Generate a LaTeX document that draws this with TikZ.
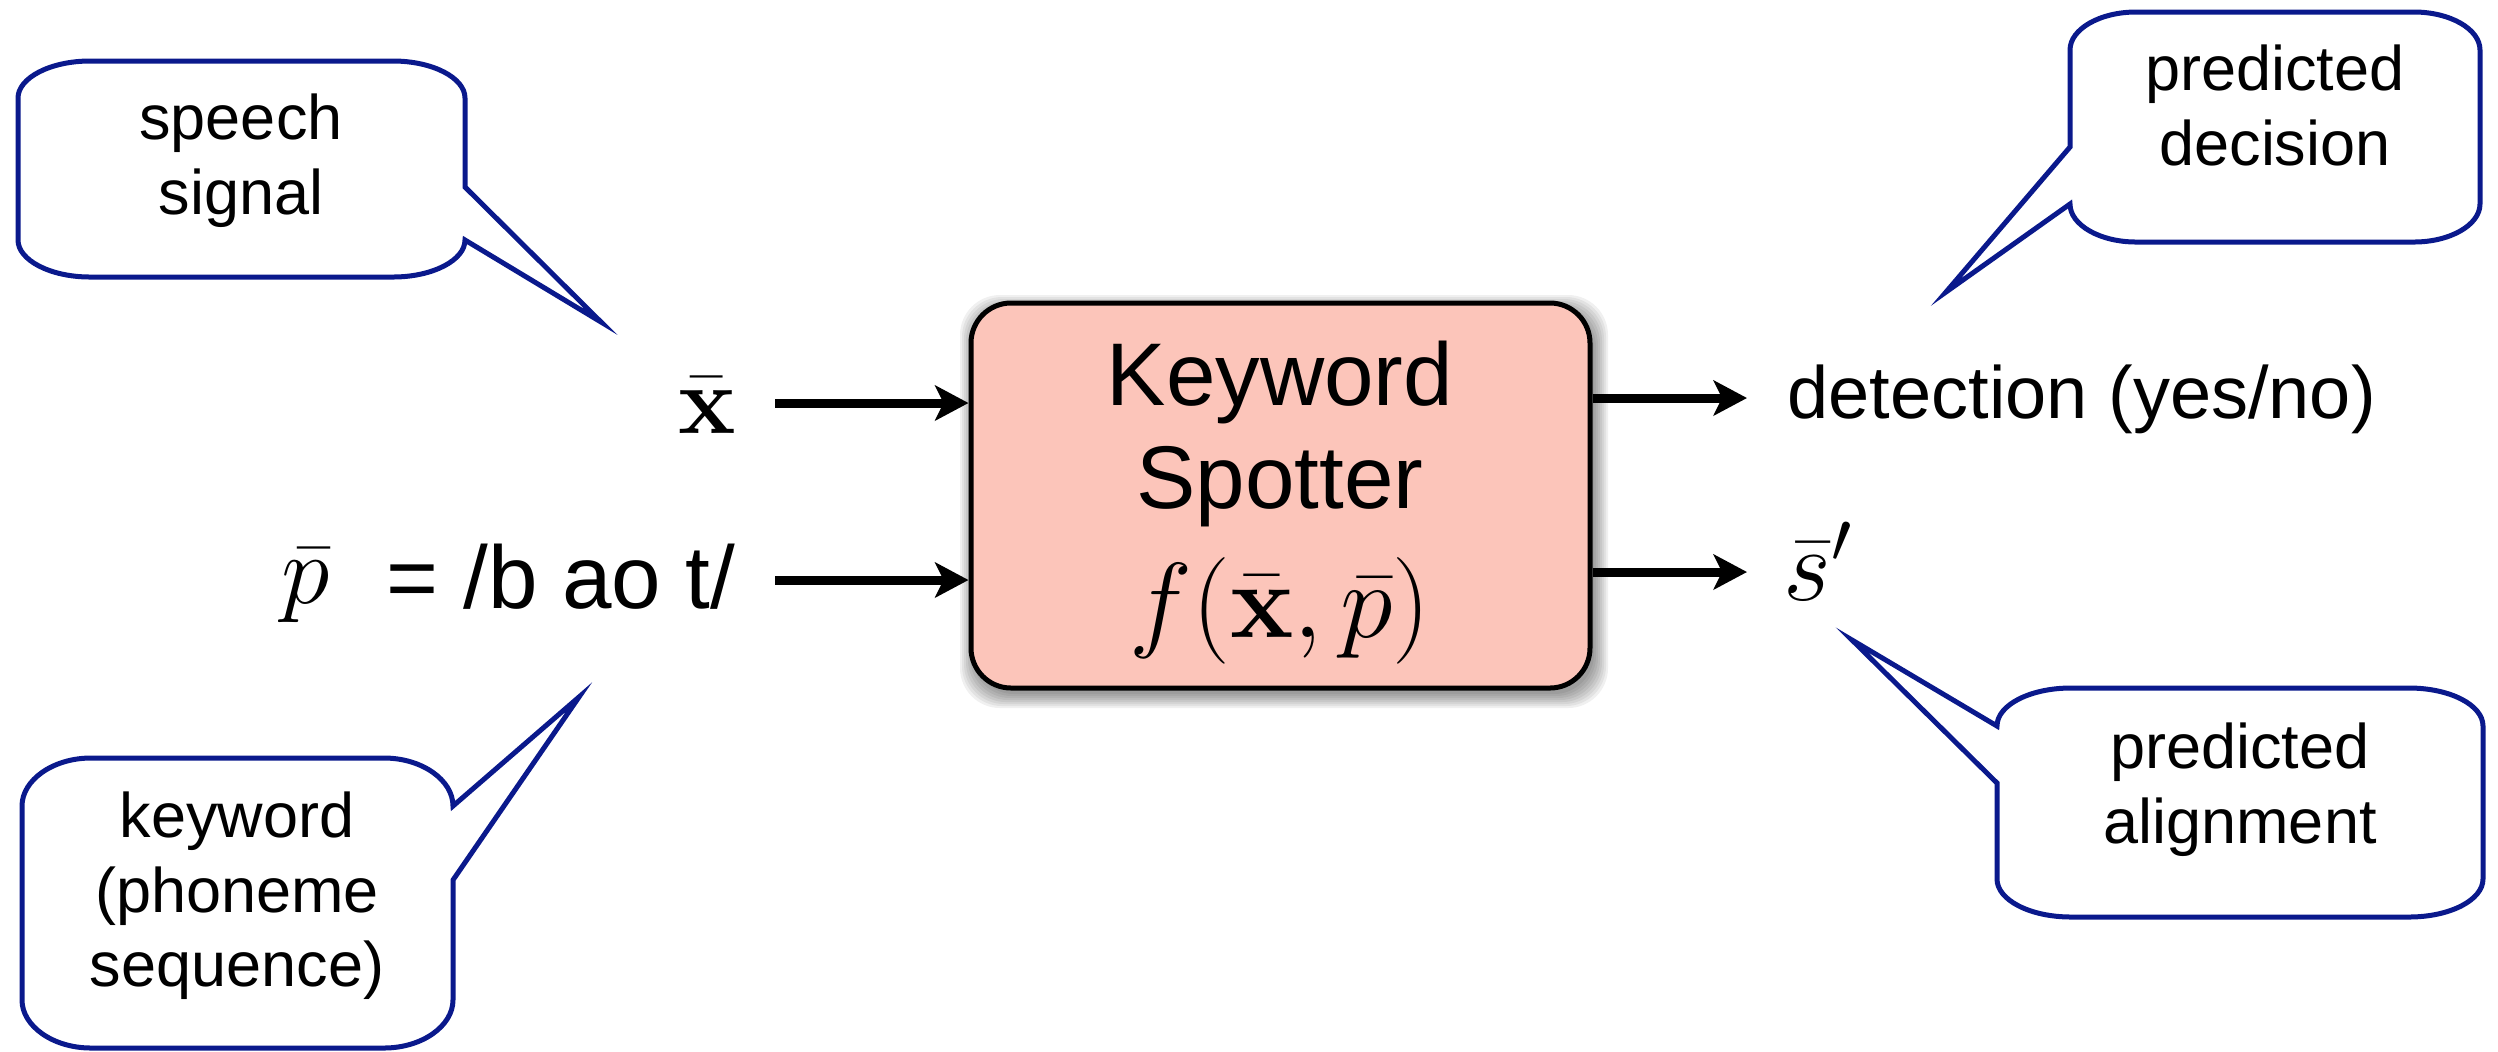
\RequirePackage{fix-cm}
\documentclass[tikz,border=0pt]{standalone}
\usepackage[no-math]{fontspec}
\setmainfont{Liberation Sans}
\usetikzlibrary{arrows.meta}
\definecolor{calloutblue}{RGB}{10,25,140}
\definecolor{spotterfill}{RGB}{252,197,186}

\begin{document}
\begin{tikzpicture}[x=0.3pt,y=-0.3pt,
  callout/.style={draw=calloutblue, line width=1.5pt, fill=white, line join=miter, miter limit=20},
  calltext/.style={anchor=base, inner sep=0pt, font=\fontsize{18.9pt}{22.5pt}\selectfont},
  boxtext/.style={anchor=base, inner sep=0pt, font=\fontsize{26.7pt}{31pt}\selectfont},
  flow/.style={line width=2.7pt, -{Stealth[length=10pt,width=10.5pt,inset=2.5pt]}},
  spotter/.style={draw=black, line width=1.5pt, fill=spotterfill, rounded corners=12pt,
    minimum width=185.7pt, minimum height=115.5pt, inner sep=0pt}
]
\useasboundingbox (0,0) rectangle (2498,1051);

% soft shadow under the spotter block
\foreach \i in {0,...,7}
  \fill[black, opacity=0.06, rounded corners=12pt]
    (974-\i*2,309-\i*2) rectangle (1594+\i*2,694+\i*2);

% central block
\node[spotter] (kws) at (1280.5,495.5) {};
\node[boxtext] (kw1) at (1280,405) {Keyword};
\node[boxtext] (kw2) at (1280,508) {Spotter};
\node[anchor=base, inner sep=0pt, font=\fontsize{32pt}{38pt}\selectfont] (kwf) at (1280,637)
  {$f(\bar{\mathbf{x}},\bar{p})$};

% inputs
\node[anchor=base, inner sep=0pt, font=\fontsize{29pt}{34pt}\selectfont] (xbar) at (707,433)
  {$\bar{\mathbf{x}}$};
\node[anchor=base west, inner sep=0pt, font=\fontsize{29.5pt}{34pt}\selectfont] (pbar) at (281,603)
  {$\bar{p}$};
\node[anchor=base west, inner sep=0pt, font=\fontsize{26.7pt}{31pt}\selectfont] (pval) at (386,608)
  {= /b ao t/};

\coordinate (xin) at (775,403);
\coordinate (pin) at (775,580);
\draw[flow] (xin) -- (xin -| kws.west);
\draw[flow] (pin) -- (pin -| kws.west);

% outputs
\coordinate (dout) at (1747,398);
\coordinate (sout) at (1747,572);
\draw[flow] (dout -| kws.east) -- (dout);
\draw[flow] (sout -| kws.east) -- (sout);

\node[anchor=base west, inner sep=0pt, font=\fontsize{22.2pt}{26pt}\selectfont] (det) at (1787,418)
  {detection (yes/no)};
\node[anchor=base west, inner sep=0pt, font=\fontsize{31pt}{36pt}\selectfont] (sbar) at (1783,600)
  {$\bar{s}'$};

% callout: speech signal
\draw[callout] (90,61) -- (393,61) .. controls (433,61) and (465,78) .. (465,98)
  -- (465,187) -- (601,322) -- (465,240)
  .. controls (465,260) and (433,277) .. (393,277) -- (90,277)
  .. controls (50,277) and (18,260) .. (18,240) -- (18,98)
  .. controls (18,78) and (50,61) .. (90,61) -- cycle;
\node[calltext] (ss1) at (241,139) {speech};
\node[calltext] (ss2) at (241,214) {signal};

% callout: keyword
\draw[callout] (91,758) -- (384,758) .. controls (422,758) and (453,780) .. (453,806)
  -- (579,697) -- (453,880) -- (453,1000)
  .. controls (453,1026) and (422,1048) .. (384,1048) -- (91,1048)
  .. controls (53,1048) and (22,1026) .. (22,1000) -- (22,806)
  .. controls (22,780) and (53,758) .. (91,758) -- cycle;
\node[calltext] (kc1) at (237,837) {keyword};
\node[calltext] (kc2) at (237,912) {(phoneme};
\node[calltext] (kc3) at (237,986) {sequence)};

% callout: predicted decision
\draw[callout] (2136,12) -- (2414,12) .. controls (2450,12) and (2480,29) .. (2480,50)
  -- (2480,204) .. controls (2480,225) and (2450,242) .. (2414,242) -- (2136,242)
  .. controls (2100,242) and (2070,225) .. (2070,204)
  -- (1946,292) -- (2070,147) -- (2070,50)
  .. controls (2070,29) and (2100,12) .. (2136,12) -- cycle;
\node[calltext] (pd1) at (2275,90) {predicted};
\node[calltext] (pd2) at (2275,165) {decision};

% callout: predicted alignment
\draw[callout] (2071,688) -- (2409,688) .. controls (2450,688) and (2483,705) .. (2483,726)
  -- (2483,879) .. controls (2483,900) and (2450,917) .. (2409,917) -- (2071,917)
  .. controls (2030,917) and (1997,900) .. (1997,879)
  -- (1997,783) -- (1852,640) -- (1997,726)
  .. controls (1997,705) and (2030,688) .. (2071,688) -- cycle;
\node[calltext] (pa1) at (2240,768) {predicted};
\node[calltext] (pa2) at (2240,843) {alignment};
\end{tikzpicture}
\end{document}
